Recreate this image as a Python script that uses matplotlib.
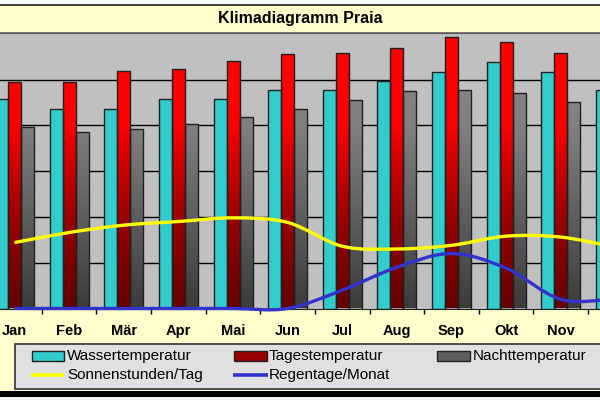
#!/usr/bin/env python3
# Klimadiagramm Praia - bars for temperatures, smooth lines for sun and rain

import numpy as np
import matplotlib
matplotlib.use('Agg')
import matplotlib.pyplot as plt
from matplotlib.colors import LinearSegmentedColormap
from matplotlib.patches import Rectangle, PathPatch
from matplotlib.path import Path

MONTHS = ['Jan', 'Feb', 'Mär', 'Apr', 'Mai', 'Jun',
          'Jul', 'Aug', 'Sep', 'Okt', 'Nov', 'Dez']
WASSER = [22.9, 21.8, 21.8, 22.9, 22.9, 23.9, 23.9, 24.8, 25.8, 26.9, 25.8, 23.9]
TAGES = [24.7, 24.7, 25.9, 26.2, 27.0, 27.8, 27.9, 28.4, 29.6, 29.1, 27.9, 25.5]
NACHT = [19.8, 19.3, 19.6, 20.2, 20.9, 21.8, 22.8, 23.7, 23.9, 23.5, 22.6, 21.0]
SONNE = [7.2, 8.3, 9.1, 9.5, 9.9, 9.4, 6.8, 6.5, 6.9, 7.9, 7.8, 6.7]
REGEN = [0, 0, 0, 0, 0, 0, 2.0, 4.5, 6.0, 4.4, 1.0, 1.0]

YMAX = 30
BAR_W = 0.238

CYAN = '#33CCCC'
RED_CMAP = LinearSegmentedColormap.from_list(
    'red', [(0, '#640000'), (0.3, '#940000'), (0.53, '#D00000'),
            (0.68, '#FF0000'), (1, '#FF0000')])
GRAY_CMAP = LinearSegmentedColormap.from_list(
    'gray', [(0, '#3C3C3C'), (0.66, '#808080'), (1, '#888888')])

plt.rcParams['font.family'] = ['Liberation Sans', 'DejaVu Sans']


def px(x0, y0, x1, y1):
    """figure rectangle from pixel edges (origin top left)"""
    return [x0 / 600, 1 - y1 / 400, (x1 - x0) / 600, (y1 - y0) / 400]


def smooth_path(x, y):
    x = np.asarray(x, float)
    y = np.asarray(y, float)
    n = len(y)
    m = np.empty(n)
    m[1:-1] = (y[2:] - y[:-2]) / 2
    m[0] = y[1] - y[0]
    m[-1] = y[-1] - y[-2]
    verts = [(x[0], y[0])]
    codes = [Path.MOVETO]
    for i in range(n - 1):
        verts += [(x[i] + 1 / 3, y[i] + m[i] / 3),
                  (x[i + 1] - 1 / 3, y[i + 1] - m[i + 1] / 3),
                  (x[i + 1], y[i + 1])]
        codes += [Path.CURVE4] * 3
    return Path(verts, codes)


def gradient_bars(ax, xs, heights, cmap):
    rects = []
    for x, h in zip(xs, heights):
        r = Rectangle((x - BAR_W / 2, 0), BAR_W, h)
        rects.append(r.get_path().transformed(r.get_patch_transform()))
    clip = Path.make_compound_path(*rects)
    grad = np.linspace(0, 1, 256).reshape(-1, 1)
    im = ax.imshow(grad, cmap=cmap, origin='lower', aspect='auto',
                   extent=(-0.5, 11.5, 0, YMAX), zorder=2, interpolation='bilinear')
    im.set_clip_path(clip, ax.transData)
    ax.bar(xs, heights, BAR_W, facecolor='none', edgecolor='#202020',
           linewidth=1.0, zorder=3)


fig = plt.figure(figsize=(6, 4), dpi=100, facecolor='#FFFFCC')

# decorations: title box, legend box, frame lines
ov = fig.add_axes([0, 0, 1, 1])
ov.set_xlim(0, 600)
ov.set_ylim(400, 0)
ov.axis('off')
ov.add_patch(Rectangle((0, 0), 600, 5, facecolor='white', edgecolor='none'))
ov.plot([0, 600], [5.2, 5.2], color='#202020', lw=1.2)
ov.plot([0, 600], [33, 33], color='#555555', lw=1.8)
ov.text(300, 19, 'Klimadiagramm Praia', ha='center', va='center',
        fontsize=11.5, fontweight='bold')
ov.add_patch(Rectangle((15, 344), 620, 45, facecolor='#E0E0E0',
                       edgecolor='#404040', lw=1.3))
ov.add_patch(Rectangle((0, 391), 600, 5.5, facecolor='black', edgecolor='none'))
ov.add_patch(Rectangle((0, 396.5), 600, 4, facecolor='#F4F4F4', edgecolor='none'))

# legend entries
leg_font = dict(fontsize=11, va='center', ha='left')
ov.add_patch(Rectangle((31.5, 351), 32, 9.5, facecolor=CYAN, edgecolor='#202020', lw=1))
ov.text(67, 356, 'Wassertemperatur', **leg_font)
ov.add_patch(Rectangle((233.5, 351), 33, 9.5, facecolor='#9A0000', edgecolor='#202020', lw=1))
ov.text(269, 356, 'Tagestemperatur', **leg_font)
ov.add_patch(Rectangle((437, 351), 33, 9.5, facecolor='#5E5E5E', edgecolor='#202020', lw=1))
ov.text(473, 356, 'Nachttemperatur', **leg_font)
ov.plot([31, 64], [374.5, 374.5], color='#FFFF00', lw=2.6, solid_capstyle='butt')
ov.text(67, 375, 'Sonnenstunden/Tag', **leg_font)
ov.plot([233, 268], [374.5, 374.5], color='#3333CC', lw=2.6, solid_capstyle='butt')
ov.text(269, 375, 'Regentage/Monat', **leg_font)

# main plot area (extends beyond the picture on both sides)
ax = fig.add_axes(px(-12.8, 33.8, 642.7, 308.5))
ax.set_facecolor('#C0C0C0')
ax.set_xlim(-0.5, 11.5)
ax.set_ylim(0, YMAX)
for s in ['left', 'right', 'top']:
    ax.spines[s].set_visible(False)
ax.spines['bottom'].set_color('#202020')
ax.set_yticks([])
for g in range(5, YMAX, 5):
    ax.axhline(g, color='black', lw=1.0, zorder=1)

x = np.arange(12)
ax.bar(x - BAR_W, WASSER, BAR_W, color=CYAN, edgecolor='#202020',
       linewidth=1.0, zorder=3)
gradient_bars(ax, x, TAGES, RED_CMAP)
gradient_bars(ax, x + BAR_W, NACHT, GRAY_CMAP)

ax.add_patch(PathPatch(smooth_path(x, SONNE), facecolor='none',
                       edgecolor='#FFFF00', lw=2.4, zorder=5))
ax.add_patch(PathPatch(smooth_path(x, REGEN), facecolor='none',
                       edgecolor='#3333CC', lw=2.4, zorder=5, clip_on=False))

ax.set_xticks(x)
ax.set_xticklabels(MONTHS, fontsize=10.5, fontweight='bold')
# the December label falls outside the picture, as in the original crop
ax.get_xticklabels()[-1].set_visible(False)
ax.tick_params(axis='x', which='major', length=0, pad=11)
ax.set_xticks(x[:-1] + 0.5, minor=True)
ax.tick_params(axis='x', which='minor', length=3.5, width=1, color='black',
               direction='out')

fig.savefig('out.png', dpi=100, facecolor=fig.get_facecolor())
